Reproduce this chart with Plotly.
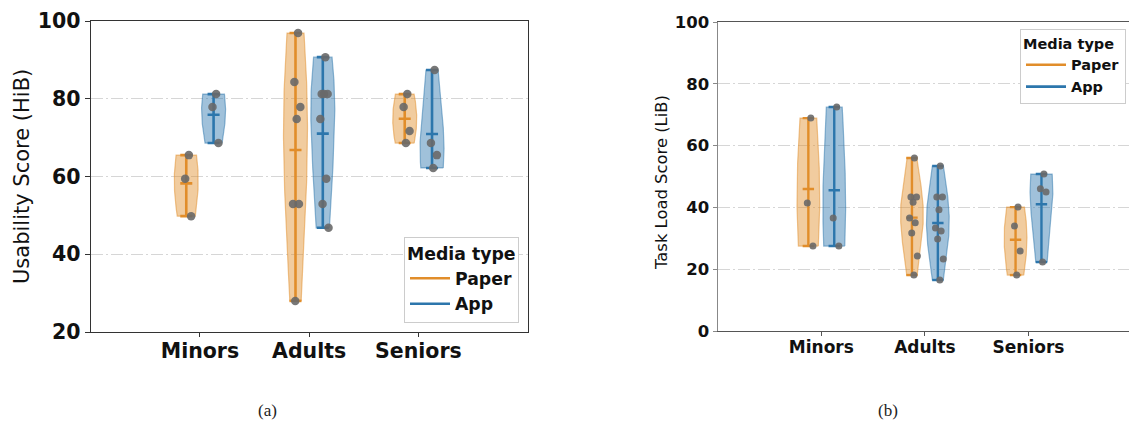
import numpy as np
import plotly.graph_objects as go

# ---- data -------------------------------------------------------------
groups = ["Minors", "Adults", "Seniors"]
media = ["Paper", "App"]

usability_paper = [
    [65.5, 59.4, 49.8],
    [96.9, 84.3, 77.9, 74.8, 52.9, 52.9, 28.0],
    [81.2, 77.9, 71.7, 68.6],
]
usability_app = [
    [81.2, 77.9, 68.6],
    [90.7, 81.2, 81.2, 81.2, 74.8, 59.4, 52.9, 46.8],
    [87.4, 68.6, 65.5, 62.2],
]
taskload_paper = [
    [68.9, 41.4, 27.5],
    [56.0, 43.4, 43.4, 41.7, 36.6, 35.0, 31.7, 24.3, 18.1],
    [40.1, 34.0, 25.9, 18.1],
]
taskload_app = [
    [72.5, 36.6, 27.5],
    [53.4, 43.4, 43.4, 39.2, 33.3, 32.4, 29.8, 23.3, 16.5],
    [50.8, 46.0, 45.0, 22.3],
]

usability_ticks = [20, 40, 60, 80, 100]
taskload_ticks = [0, 20, 40, 60, 80, 100]

# ---- style ------------------------------------------------------------
W, H = 1129, 425
colors = {"Paper": (225, 141, 42), "App": (44, 118, 172)}
VIOLIN_W = 0.22
OFFSET = 0.125
BW_SCALE = 1.4
FONT = "DejaVu Sans"


def rgba(c, a):
    return f"rgba({c[0]},{c[1]},{c[2]},{a})"


def violin_outline(vals, pos, npts=100):
    """Gaussian KDE (scaled Scott bandwidth) evaluated between min and max,
    normalised so the widest point spans VIOLIN_W."""
    vals = np.asarray(vals, float)
    bw = BW_SCALE * np.std(vals, ddof=1) * len(vals) ** (-1 / 5)
    ys = np.linspace(vals.min(), vals.max(), npts)
    dens = np.exp(-0.5 * ((ys[:, None] - vals[None, :]) / bw) ** 2).sum(axis=1)
    half = dens / dens.max() * VIOLIN_W / 2
    xs = np.concatenate([pos + half, (pos - half)[::-1], [pos + half[0]]])
    yy = np.concatenate([ys, ys[::-1], [ys[0]]])
    return xs, yy


fig = go.Figure()


def add_panel(xa, ya, series, lw, dot):
    for m, (name, per_group) in enumerate(series):
        col = colors[name]
        for g, vals in enumerate(per_group):
            pos = g + (-OFFSET if m == 0 else OFFSET)
            vals = np.asarray(vals, float)
            # violin body
            vx, vy = violin_outline(vals, pos)
            fig.add_trace(go.Scatter(
                x=vx, y=vy, xaxis=xa, yaxis=ya, mode="lines", fill="toself",
                fillcolor=rgba(col, 0.45), line=dict(color=rgba(col, 0.5), width=1.2),
                showlegend=False, hoverinfo="skip",
            ))
            # extrema bar, caps and mean
            h = VIOLIN_W * 0.25
            lo, hi, mu = vals.min(), vals.max(), vals.mean()
            fig.add_trace(go.Scatter(
                x=[pos, pos, None, pos - h, pos + h, None, pos - h, pos + h, None, pos - h, pos + h],
                y=[lo, hi, None, lo, lo, None, hi, hi, None, mu, mu],
                xaxis=xa, yaxis=ya, mode="lines",
                line=dict(color=rgba(col, 1), width=lw), showlegend=False, hoverinfo="skip",
            ))
            # individual responses, spread slightly along x
            k = np.arange(len(vals))
            jit = (((k + 1) * 0.6180339887) % 1 - 0.35) * VIOLIN_W * 0.4
            fig.add_trace(go.Scatter(
                x=pos + jit, y=vals, xaxis=xa, yaxis=ya, mode="markers",
                marker=dict(color="rgba(105,105,105,0.9)", size=dot),
                showlegend=False,
            ))


add_panel("x", "y", [("Paper", usability_paper), ("App", usability_app)], 2.6, 8.5)
add_panel("x2", "y2", [("Paper", taskload_paper), ("App", taskload_app)], 2.4, 7)

# legend entries
for name in media:
    for lg in ("legend", "legend2"):
        fig.add_trace(go.Scatter(
            x=[None], y=[None], mode="lines", name=name, legend=lg,
            line=dict(color=rgba(colors[name], 1), width=2.6),
        ))

grid = dict(showgrid=True, gridcolor="#d6d6d6", gridwidth=1, griddash="12px,3px,2px,3px")

fig.update_layout(
    width=W, height=H, autosize=False,
    margin=dict(l=0, r=0, t=0, b=0, autoexpand=False),
    paper_bgcolor="white", plot_bgcolor="white",
    font=dict(family=FONT, color="#111"),
    xaxis=dict(
        domain=[90.7 / W, 527.6 / W], range=[-1, 3], anchor="y",
        tickvals=[0, 1, 2], ticktext=groups,
        tickfont=dict(size=20.5, weight="bold", color="#111"),
        showline=True, mirror=True, linecolor="#333", linewidth=1.2,
        ticks="outside", ticklen=4, tickcolor="#333", showgrid=False, zeroline=False,
        automargin=False, ticklabelstandoff=-4,
    ),
    yaxis=dict(
        domain=[(H - 332) / H, (H - 21) / H], range=[20, 100], anchor="x",
        tickvals=usability_ticks, ticktext=[str(t) for t in usability_ticks],
        tickfont=dict(size=20.5, weight="bold", color="#111"),
        showline=True, mirror=True, linecolor="#333", linewidth=1.2,
        ticks="outside", ticklen=5, tickcolor="#333", zeroline=False,
        automargin=False, **grid,
    ),
    xaxis2=dict(
        domain=[717.7 / W, 1.0], range=[-1, 2.97], anchor="y2",
        tickvals=[0, 1, 2], ticktext=groups,
        tickfont=dict(size=17, weight="bold", color="#111"),
        showline=True, mirror=True, linecolor="#555", linewidth=1.2,
        ticks="outside", ticklen=4, tickcolor="#555", showgrid=False, zeroline=False,
        automargin=False, ticklabelstandoff=-4,
    ),
    yaxis2=dict(
        domain=[(H - 331) / H, (H - 22) / H], range=[0, 100], anchor="x2",
        tickvals=taskload_ticks, ticktext=[str(t) for t in taskload_ticks],
        tickfont=dict(size=16.5, weight="bold", color="#111"),
        showline=True, mirror=False, linecolor="#888", linewidth=1.2,
        ticks="outside", ticklen=4, tickcolor="#888", zeroline=False,
        automargin=False, **grid,
    ),
    legend=dict(
        x=519 / W, xanchor="right", y=(H - 323) / H, yanchor="bottom",
        bgcolor="white", bordercolor="#cccccc", borderwidth=1,
        font=dict(size=17.3, weight="bold", color="#111"),
        title=dict(text="Media type", side="top", font=dict(size=17.3, weight="bold")),
        itemwidth=40,
    ),
    legend2=dict(
        x=1126 / W, xanchor="right", y=(H - 29) / H, yanchor="top",
        bgcolor="white", bordercolor="#cccccc", borderwidth=1,
        font=dict(size=14.5, weight="bold", color="#111"),
        title=dict(text="Media type", side="top", font=dict(size=14.5, weight="bold")),
        itemwidth=40,
    ),
    annotations=[
        dict(text="Usability Score (HiB)", textangle=-90, x=22 / W, y=(H - 177) / H,
             xref="paper", yref="paper", xanchor="center", yanchor="middle", showarrow=False,
             font=dict(size=21, family=FONT, color="#111")),
        dict(text="Task Load Score (LiB)", textangle=-90, x=662 / W, y=(H - 183) / H,
             xref="paper", yref="paper", xanchor="center", yanchor="middle", showarrow=False,
             font=dict(size=16.4, family=FONT, color="#111")),
        dict(text="(a)", x=267 / W, y=(H - 410) / H, xref="paper", yref="paper",
             xanchor="center", yanchor="middle",
             showarrow=False, font=dict(size=17, family="Liberation Serif", color="#222")),
        dict(text="(b)", x=888 / W, y=(H - 410) / H, xref="paper", yref="paper",
             xanchor="center", yanchor="middle",
             showarrow=False, font=dict(size=17, family="Liberation Serif", color="#222")),
    ],
)

fig.write_html("out.html")
